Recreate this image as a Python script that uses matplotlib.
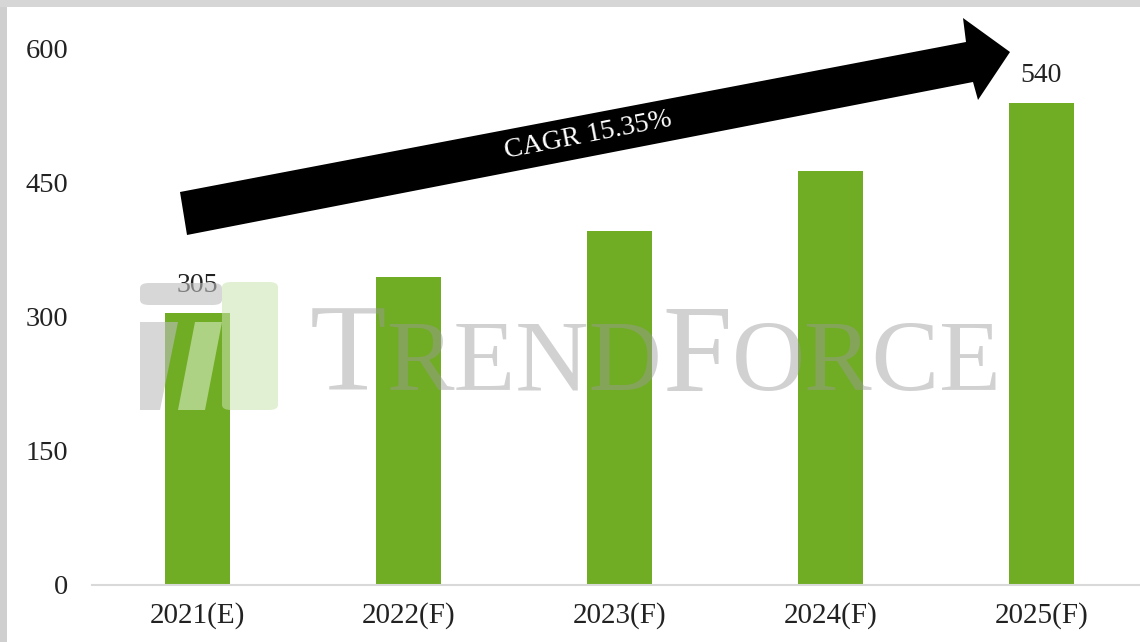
import matplotlib
matplotlib.use('Agg')
import matplotlib.pyplot as plt
from matplotlib.patches import Polygon, Rectangle, FancyBboxPatch

years = ['2021(E)', '2022(F)', '2023(F)', '2024(F)', '2025(F)']
values = [305, 345, 396, 463, 540]
labelled = [0, 4]
yticks = [0, 150, 300, 450, 600]

W, H = 1140, 642
plt.rcParams['font.family'] = ['Liberation Serif', 'DejaVu Serif']

fig = plt.figure(figsize=(W / 100, H / 100), dpi=100)
ax = fig.add_axes([92 / W, 1 - 585 / H, 1055 / W, 536 / H])

green = '#71ad24'
ax.bar(range(len(years)), values, width=0.31, color=green, zorder=2)
for i in labelled:
    ax.text(i, values[i] + 16, str(values[i]), ha='center', va='bottom',
            fontsize=20, color='#222222')

ax.set_xlim(-0.5, 4.5)
ax.set_ylim(0, 600)
ax.set_yticks(yticks)
ax.set_xticks(range(len(years)))
ax.set_xticklabels(years)
ax.tick_params(axis='y', length=0, pad=17, labelsize=20.5, colors='#222222')
ax.tick_params(axis='x', length=0, pad=12, labelsize=21, colors='#222222')
for s in ['top', 'right', 'left']:
    ax.spines[s].set_visible(False)
ax.spines['bottom'].set_color('#d9d9d9')
ax.spines['bottom'].set_linewidth(1.5)


def fc(x, y):
    return (x / W, 1 - y / H)


# growth arrow
arrow_pts = [(180, 192), (966, 42), (963, 18), (1010, 52),
             (978, 100), (973, 82), (187, 235)]
fig.patches.append(Polygon([fc(x, y) for x, y in arrow_pts], closed=True,
                           transform=fig.transFigure, facecolor='black',
                           edgecolor='none', zorder=5))
fig.text(588 / W, 1 - 135 / H, 'CAGR 15.35%', color='white', fontsize=20,
         rotation=11, ha='center', va='center', zorder=6)

# watermark logo
fig.patches.append(FancyBboxPatch(fc(140, 305), 82 / W, 22 / H,
                                  boxstyle='round,pad=0,rounding_size=0.008',
                                  transform=fig.transFigure, facecolor='#bdbdbd',
                                  edgecolor='none', alpha=0.6, zorder=4))
fig.patches.append(FancyBboxPatch(fc(222, 410), 56 / W, 128 / H,
                                  boxstyle='round,pad=0,rounding_size=0.008',
                                  transform=fig.transFigure, facecolor='#c9e3b0',
                                  edgecolor='none', alpha=0.55, zorder=4))
fig.patches.append(Polygon([fc(x, y) for x, y in
                            [(140, 322), (178, 322), (160, 410), (140, 410)]],
                           closed=True, transform=fig.transFigure,
                           facecolor='#bdbdbd', edgecolor='none', alpha=0.6, zorder=4))
fig.patches.append(Polygon([fc(x, y) for x, y in
                            [(195, 322), (222, 322), (205, 410), (178, 410)]],
                           closed=True, transform=fig.transFigure,
                           facecolor='#d8ebc6', edgecolor='none', alpha=0.6, zorder=4))

# watermark text
pieces = [('T', 90), ('REND', 73), ('F', 90), ('ORCE', 73)]
fig.canvas.draw()
r = fig.canvas.get_renderer()
xpos = 310
for s, fs in pieces:
    t = fig.text(xpos / W, 1 - 391 / H, s, fontsize=fs, color='#9a9a9a',
                 alpha=0.45, ha='left', va='baseline', zorder=4)
    xpos += t.get_window_extent(r).width

# grey frame strips
fig.patches.append(Rectangle((0, 0), 7 / W, 1, transform=fig.transFigure,
                             facecolor='#cfcfcf', edgecolor='none', zorder=7))
fig.patches.append(Rectangle((0, 1 - 7 / H), 1, 7 / H, transform=fig.transFigure,
                             facecolor='#d6d6d6', edgecolor='none', zorder=7))

fig.savefig('out.png', dpi=100)
